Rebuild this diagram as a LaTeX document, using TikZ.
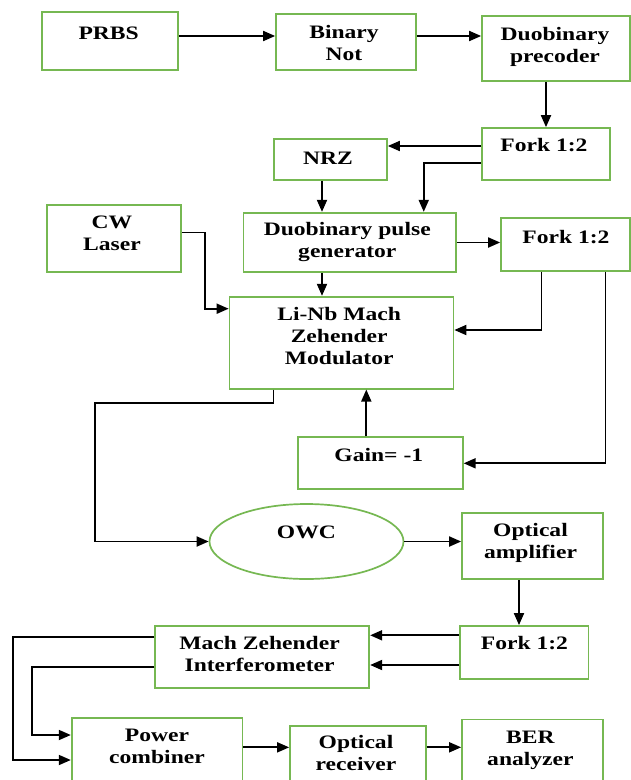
\documentclass[tikz,border=0pt]{standalone}
\usepackage{fontspec}
\setmainfont{Liberation Serif}[FakeStretch=1.24]
\usetikzlibrary{arrows.meta,shapes.geometric}
\definecolor{boxgreen}{RGB}{118,184,82}
\tikzset{
  box/.style={draw=boxgreen, line width=1.7pt, inner sep=0pt, fill=white},
  oval/.style={ellipse, draw=boxgreen, line width=1.7pt, inner sep=0pt},
  txt/.style={inner sep=0pt, align=center, font=\fontsize{19}{22}\selectfont\bfseries},
  arr/.style={draw=black, line width=1.8pt, -{Triangle[length=12pt,width=10pt]}},
}
\begin{document}
\begin{tikzpicture}[x=1pt,y=-1pt]
\path[use as bounding box, clip] (0,0) rectangle (631,780);
\fill[white] (0,0) rectangle (631,780);
% boxes
\node[box, minimum width=136, minimum height=58] (prbs) at (110,41) {};
\node[box, minimum width=140, minimum height=56] (bnot) at (346,42) {};
\node[box, minimum width=148, minimum height=65] (prec) at (556,48.5) {};
\node[box, minimum width=128, minimum height=52] (fork1) at (546,154) {};
\node[box, minimum width=113, minimum height=41] (nrz) at (330.5,159.5) {};
\node[box, minimum width=134, minimum height=67] (cw) at (114,238.5) {};
\node[box, minimum width=212.5, minimum height=59.6] (dpg) at (349.75,242.5) {};
\node[box, minimum width=129, minimum height=52.4] (fork2) at (565.5,244.5) {};
\node[box, minimum width=224, minimum height=92] (mzm) at (341.5,342.7) {};
\node[box, minimum width=165, minimum height=52] (gain) at (380.3,463.3) {};
\node[oval, minimum width=194, minimum height=75] (owc) at (306.5,541.5) {};
\node[box, minimum width=140.8, minimum height=66] (oamp) at (532.4,546.3) {};
\node[box, minimum width=128.3, minimum height=52.7] (fork3) at (524.2,652.3) {};
\node[box, minimum width=214, minimum height=61.7] (mzi) at (262.3,656.9) {};
\node[box, minimum width=170.7, minimum height=82.3] (pc) at (157,758.85) {};
\node[box, minimum width=135.8, minimum height=74.3] (orx) at (357.9,762.9) {};
\node[box, minimum width=140.8, minimum height=80.7] (ber) at (532.4,759.7) {};
% texts
\node[txt] (prbs-t) at (108.7,33) {PRBS};
\node[txt] (bnot-t) at (344,43.3) {Binary\\Not};
\node[txt] (prec-t) at (555,47) {Duobinary\\precoder};
\node[txt] (fork1-t) at (544,145.5) {Fork 1:2};
\node[txt] (nrz-t) at (328,158.3) {NRZ};
\node[txt] (cw-t) at (112,233) {CW\\Laser};
\node[txt] (dpg-t) at (347.3,241.5) {Duobinary pulse\\generator};
\node[txt] (fork2-t) at (566,237) {Fork 1:2};
\node[txt] (mzm-t) at (339.2,336) {Li-Nb Mach\\Zehender\\Modulator};
\node[txt] (gain-t) at (378.8,454.5) {Gain= -1};
\node[txt] (owc-t) at (306.4,532.7) {OWC};
\node[txt] (oamp-t) at (530.5,543) {Optical\\amplifier};
\node[txt] (fork3-t) at (524.5,643) {Fork 1:2};
\node[txt] (mzi-t) at (259.6,654) {Mach Zehender\\Interferometer};
\node[txt] (pc-t) at (157,746) {Power\\combiner};
\node[txt] (orx-t) at (356,753) {Optical\\receiver};
\node[txt] (ber-t) at (530.4,750) {BER\\analyzer};
% helper coordinates
\coordinate (k1) at (94.6,402.7);
\coordinate (k2) at (13.3,760);
\coordinate (k3) at (32.2,735);
% connectors
\draw[arr] ([yshift=5pt]prbs.east) -- ([yshift=5pt]prbs.east -| bnot.west);
\draw[arr] ([yshift=6pt]bnot.east) -- ([yshift=6pt]bnot.east -| prec.west);
\draw[arr] (fork1.north |- prec.south) -- (fork1.north);
\draw[arr] ([yshift=8pt]fork1.west) -- ([yshift=8pt]fork1.west -| nrz.east);
\draw[arr] ([yshift=-9pt]fork1.west) -| ([xshift=74pt]dpg.north);
\draw[arr] ([xshift=-8.5pt]nrz.south) -- ([xshift=-8.5pt]nrz.south |- dpg.north);
\draw[arr] (dpg.east) -- (dpg.east -| fork2.west);
\draw[arr] ([xshift=-27.75pt]dpg.south) -- ([xshift=-27.75pt]dpg.south |- mzm.north);
\draw[arr] ([yshift=6pt]cw.east) -- ++(23,0) |- ([yshift=34pt]mzm.west);
\draw[arr] ([xshift=-24pt]fork2.south) |- ([yshift=12.7pt]mzm.east);
\draw[arr] ([xshift=40pt]fork2.south) |- (gain.east);
\draw[arr] ([xshift=-14pt]gain.north) -- ([xshift=-14pt]gain.north |- mzm.south);
\draw[arr] ([xshift=-68pt]mzm.south) |- (k1) |- (owc.west);
\draw[arr] (owc.east) -- (owc.east -| oamp.west);
\draw[arr] ([xshift=-13.4pt]oamp.south) -- ([xshift=-13.4pt]oamp.south |- fork3.north);
\draw[arr] ([yshift=17pt]fork3.west) -- ([yshift=17pt]fork3.west -| mzi.east);
\draw[arr] ([yshift=-12.7pt]fork3.west) -- ([yshift=-12.7pt]fork3.west -| mzi.east);
\draw[arr] ([yshift=20pt]mzi.west) -| (k2) -- (k2 -| pc.west);
\draw[arr] ([yshift=-10.4pt]mzi.west) -| (k3) -- (k3 -| pc.west);
\draw[arr] ([yshift=11.5pt]pc.east) -- ([yshift=11.5pt]pc.east -| orx.west);
\draw[arr] ([yshift=15.6pt]orx.east) -- ([yshift=15.6pt]orx.east -| ber.west);
\end{tikzpicture}
\end{document}
